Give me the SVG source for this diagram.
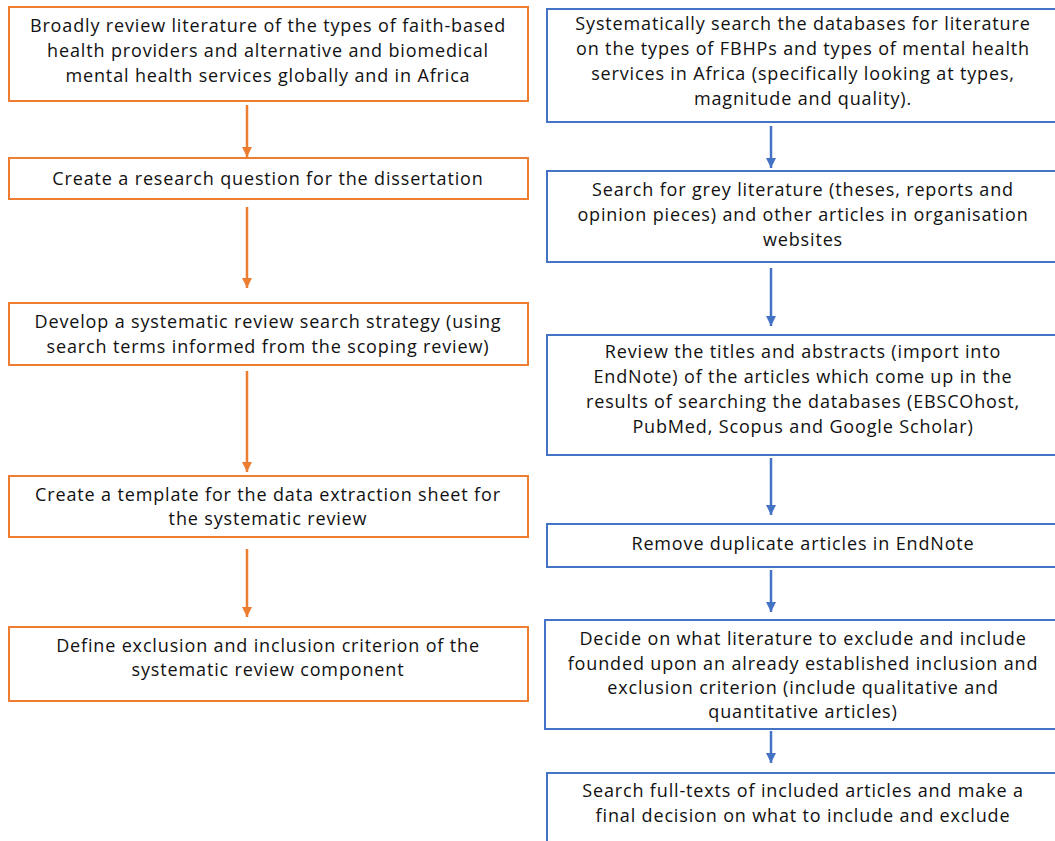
<svg xmlns="http://www.w3.org/2000/svg" width="1055" height="841" viewBox="0 0 1055 841">
<style>
.bg{fill:#ffffff}
.o{fill:#ffffff;stroke:#ED7D31;stroke-width:2}
.b{fill:#ffffff;stroke:#4472C4;stroke-width:2}
text{font-family:"Open Sans","Liberation Sans",sans-serif;font-size:18px;letter-spacing:0.85px;fill:#111111;text-anchor:middle}
.ao{stroke:#ED7D31;stroke-width:2.5;fill:none;marker-end:url(#ho)}
.ab{stroke:#4472C4;stroke-width:2.5;fill:none;marker-end:url(#hb)}
</style>
<defs>
<marker id="ho" viewBox="0 0 10 10" refX="10" refY="5" markerWidth="10" markerHeight="11" markerUnits="userSpaceOnUse" orient="auto"><path d="M0,0 L10,5 L0,10 z" fill="#ED7D31"/></marker>
<marker id="hb" viewBox="0 0 10 10" refX="10" refY="5" markerWidth="10" markerHeight="11" markerUnits="userSpaceOnUse" orient="auto"><path d="M0,0 L10,5 L0,10 z" fill="#4472C4"/></marker>
</defs>
<rect class="bg" x="0" y="0" width="1055" height="841"/>
<g id="connectors">
<line class="ao" x1="247" y1="105" x2="247" y2="157"/>
<line class="ao" x1="247" y1="207" x2="247" y2="288"/>
<line class="ao" x1="247" y1="371" x2="247" y2="472"/>
<line class="ao" x1="247" y1="549" x2="247" y2="617"/>
<line class="ab" x1="771" y1="126" x2="771" y2="168"/>
<line class="ab" x1="771" y1="268" x2="771" y2="326"/>
<line class="ab" x1="771" y1="458" x2="771" y2="515"/>
<line class="ab" x1="771" y1="570" x2="771" y2="612"/>
<line class="ab" x1="771" y1="731" x2="771" y2="763"/>
</g>
<g id="L1"><rect class="o" x="9" y="7" width="519" height="94"/>
<text x="268" y="32">Broadly review literature of the types of faith-based</text>
<text x="268" y="57">health providers and alternative and biomedical</text>
<text x="268" y="82">mental health services globally and in Africa</text></g>
<g id="L2"><rect class="o" x="9" y="158" width="519" height="41"/>
<text x="268" y="185">Create a research question for the dissertation</text></g>
<g id="L3"><rect class="o" x="9" y="303" width="519" height="62"/>
<text x="268" y="328">Develop a systematic review search strategy (using</text>
<text x="268" y="353">search terms informed from the scoping review)</text></g>
<g id="L4"><rect class="o" x="9" y="476" width="519" height="61"/>
<text x="268" y="501">Create a template for the data extraction sheet for</text>
<text x="268" y="525">the systematic review</text></g>
<g id="L5"><rect class="o" x="9" y="627" width="519" height="74"/>
<text x="268" y="652">Define exclusion and inclusion criterion of the</text>
<text x="268" y="676">systematic review component</text></g>
<g id="R1"><rect class="b" x="547" y="9" width="520" height="113"/>
<text x="803" y="30">Systematically search the databases for literature</text>
<text x="803" y="55">on the types of FBHPs and types of mental health</text>
<text x="803" y="80">services in Africa (specifically looking at types,</text>
<text x="803" y="105">magnitude and quality).</text></g>
<g id="R2"><rect class="b" x="547" y="171" width="520" height="91"/>
<text x="803" y="196">Search for grey literature (theses, reports and</text>
<text x="803" y="221">opinion pieces) and other articles in organisation</text>
<text x="803" y="246">websites</text></g>
<g id="R3"><rect class="b" x="547" y="335" width="520" height="120"/>
<text x="803" y="358">Review the titles and abstracts (import into</text>
<text x="803" y="383">EndNote) of the articles which come up in the</text>
<text x="803" y="408">results of searching the databases (EBSCOhost,</text>
<text x="803" y="433">PubMed, Scopus and Google Scholar)</text></g>
<g id="R4"><rect class="b" x="547" y="524" width="520" height="43"/>
<text x="803" y="550">Remove duplicate articles in EndNote</text></g>
<g id="R5"><rect class="b" x="545" y="620" width="522" height="109"/>
<text x="803" y="645">Decide on what literature to exclude and include</text>
<text x="803" y="670">founded upon an already established inclusion and</text>
<text x="803" y="694">exclusion criterion (include qualitative and</text>
<text x="803" y="718">quantitative articles)</text></g>
<g id="R6"><rect class="b" x="547" y="773" width="520" height="90"/>
<text x="803" y="797">Search full-texts of included articles and make a</text>
<text x="803" y="822">final decision on what to include and exclude</text></g>
</svg>
